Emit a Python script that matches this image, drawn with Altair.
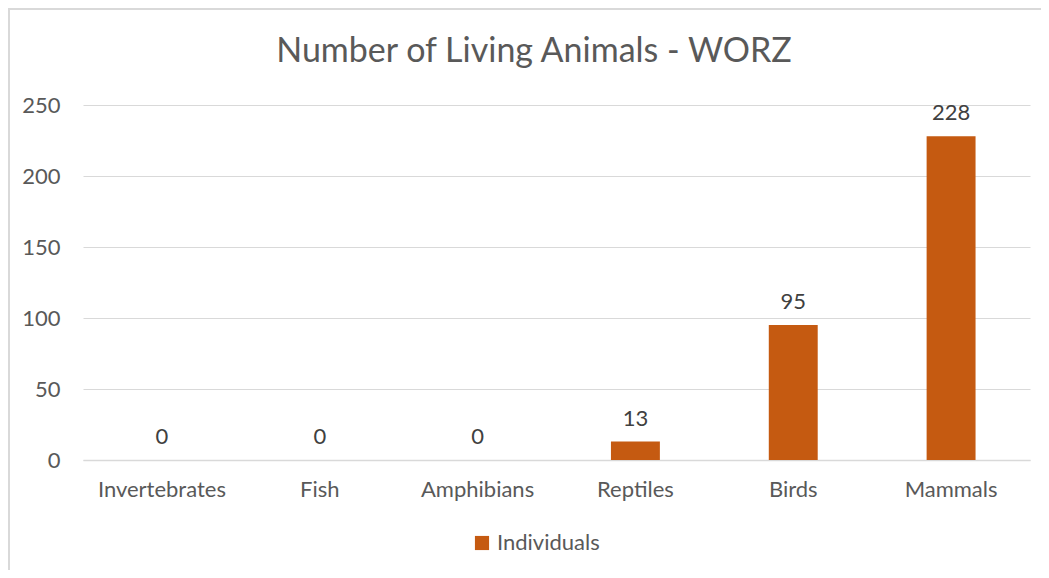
import altair as alt
import pandas as pd

categories = ["Invertebrates", "Fish", "Amphibians", "Reptiles", "Birds", "Mammals"]
values = [0, 0, 0, 13, 95, 228]
series_name = "Individuals"
title_text = "Number of Living Animals - WORZ"

df = pd.DataFrame({"category": categories, "value": values, "series": [series_name] * len(categories)})

FONT = "Lato"
W, H = 947, 355
FS = 22

base = alt.Chart(df)
one = base.transform_filter(alt.datum.category == "Fish")

border_left = one.mark_rule(color="#D9D9D9", strokeWidth=2).encode(
    x=alt.value(-74), y=alt.value(-97), y2=alt.value(480)
)
border_top = one.mark_rule(color="#D9D9D9", strokeWidth=2).encode(
    x=alt.value(-75), x2=alt.value(960), y=alt.value(-96)
)

title = one.mark_text(fontSize=34, color="#595959", font=FONT, baseline="alphabetic", align="center").encode(
    x=alt.value(451), y=alt.value(-43), text=alt.value(title_text)
)

bars = base.mark_bar(color="#C55A11").encode(
    x=alt.X("category:N", sort=categories, scale=alt.Scale(paddingInner=0.69, paddingOuter=0.345),
            axis=alt.Axis(title=None, labelAngle=0, labelFontSize=FS, labelColor="#595959",
                          labelPadding=19, ticks=False, domainColor="#D9D9D9", domainWidth=1.5,
                          labelFont=FONT, grid=False)),
    y=alt.Y("value:Q", scale=alt.Scale(domain=[0, 250], nice=False),
            axis=alt.Axis(title=None, values=[0, 50, 100, 150, 200, 250], labelFontSize=FS,
                          labelColor="#595959", labelPadding=23, ticks=False, domain=False,
                          gridColor="#D9D9D9", gridWidth=1.2, labelFont=FONT)),
    fill=alt.Fill("series:N", scale=alt.Scale(range=["#C55A11"]),
                  legend=alt.Legend(title=None, orient="none", legendX=388, legendY=427,
                                    symbolType="square", symbolSize=200, labelFontSize=FS,
                                    labelColor="#595959", labelFont=FONT, symbolStrokeWidth=0)),
)

labels = base.mark_text(baseline="bottom", dy=-11, fontSize=FS, color="#404040", font=FONT).encode(
    x=alt.X("category:N", sort=categories),
    y=alt.Y("value:Q"),
    text=alt.Text("value:Q"),
)

chart = alt.layer(bars, labels, border_left, border_top, title).properties(
    width=W, height=H,
    autosize=alt.AutoSizeParams(type="none"),
    padding={"left": 75, "top": 97, "right": 11, "bottom": 110},
).configure(background="white").configure_view(stroke=None)

chart.save("out.html", embed_options={"renderer": "svg", "actions": False})
